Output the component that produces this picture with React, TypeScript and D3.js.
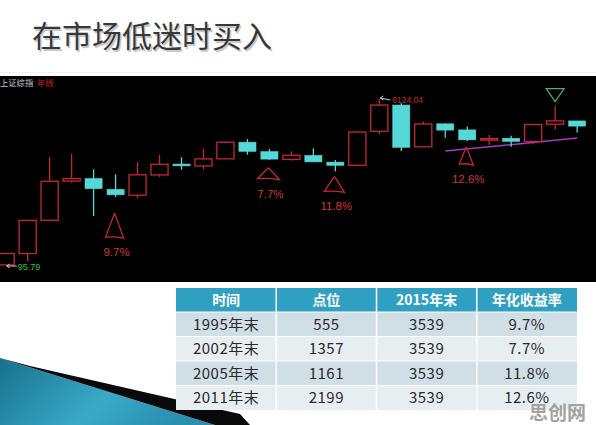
import React from 'react';
import * as d3 from 'd3';

// Shanghai Composite yearly candles (上证综指 年线)
const years = [1990, 1991, 1992, 1993, 1994, 1995, 1996, 1997, 1998, 1999, 2000, 2001, 2002, 2003,
  2004, 2005, 2006, 2007, 2008, 2009, 2010, 2011, 2012, 2013, 2014, 2015, 2016];
const opens = [96.05, 127.61, 293.74, 784.13, 837.7, 637.72, 550.26, 914.06, 1200.95, 1144.89, 1368.69,
  2077.07, 1643.49, 1347.43, 1492.72, 1260.78, 1163.88, 2728.19, 5265.0, 1849.02, 3289.75, 2825.33,
  2212.0, 2289.51, 2112.13, 3258.63, 3536.59];
const highs = [127.61, 292.75, 1429.01, 1558.95, 1052.94, 926.41, 1258.69, 1510.18, 1422.98, 1756.18,
  2125.72, 2245.44, 1748.89, 1649.6, 1783.01, 1328.53, 2698.9, 6124.04, 5522.78, 3478.01, 3306.75,
  3067.46, 2478.38, 2444.8, 3239.36, 5178.19, 3538.69];
const lows = [95.79, 105.77, 292.76, 750.46, 325.89, 524.43, 512.83, 870.18, 1043.02, 1047.83, 1361.21,
  1514.86, 1339.2, 1307.4, 1259.43, 998.23, 1161.91, 2541.52, 1664.93, 1844.09, 2319.74, 2134.02,
  1949.46, 1849.65, 1974.38, 2850.71, 2638.3];
const closes = [127.61, 292.75, 780.39, 833.8, 647.87, 555.29, 917.02, 1194.1, 1146.7, 1366.58, 2073.48,
  1645.97, 1357.65, 1497.04, 1266.5, 1161.06, 2675.47, 5261.56, 1820.81, 3277.14, 2808.08, 2199.42,
  2269.13, 2115.98, 3234.68, 3539.18, 3103.64];

// buy points marked below candles
const buyYears = [1995, 2002, 2005, 2011];
const buyLabels = ['9.7%', '7.7%', '11.8%', '12.6%'];

// support line drawn under recent candles
const trendYears = [2010, 2016];
const trendValues = [1660, 2300];

// table
const tableHeaders = ['时间', '点位', '2015年末', '年化收益率'];
const tablePeriods = ['1995年末', '2002年末', '2005年末', '2011年末'];
const tablePoints = [555, 1357, 1161, 2199];
const tableEnd = [3539, 3539, 3539, 3539];
const tableReturns = ['9.7%', '7.7%', '11.8%', '12.6%'];

const W = 596;
const H = 425;
const RED = '#c42a2c';
const CYAN = '#55d8d8';
const CJK = '"Noto Sans CJK SC", "Noto Sans", sans-serif';
const NUM = '"Liberation Sans", Arial, sans-serif';

// hand-drawn triangle shapes: [gap below low, height, half width]
const triShape = [[16, 24, 9], [8, 11, 11], [5, 15, 10], [6, 17, 7]];

export default function App() {
  const x = d3.scaleBand<number>().domain(years).range([-2.9, 585.7]).paddingInner(0.22);
  const y = d3.scaleLog().domain([95.79, 6124.04]).range([265, 99]);
  const cx = (yr: number) => (x(yr) as number) + x.bandwidth() / 2;
  const bw = x.bandwidth();

  const candles = years.map((yr, i) => ({ yr, o: opens[i], h: highs[i], l: lows[i], c: closes[i] }));

  const trendLine = d3.line<number>()
    .x((_, i) => cx(trendYears[i]))
    .y((v) => y(v))(trendValues);

  const iMax = highs.indexOf(d3.max(highs) as number);
  const iMin = lows.indexOf(d3.min(lows) as number);
  const hi2015 = highs[years.indexOf(2015)];

  // table layout
  const tx = 176, tw = 401, ty = 288, hh = 24, rh = 24.5;
  const col = d3.scaleBand<number>().domain([0, 1, 2, 3]).range([tx, tx + tw]);
  const rows = tablePeriods.map((p, i) => [p, String(tablePoints[i]), String(tableEnd[i]), tableReturns[i]]);

  const mx = cx(years[iMax]), my = y(highs[iMax]);
  const nx = cx(years[iMin]), ny = y(lows[iMin]);

  return (
    <div style={{ position: 'fixed', left: 0, top: 0, width: W, height: H, background: '#fff' }}>
      <svg width={W} height={H} style={{ display: 'block' }}>
        <defs>
          <linearGradient id="teal" x1="0" y1="0" x2="1" y2="0.3">
            <stop offset="0" stopColor="#17718c" />
            <stop offset="0.6" stopColor="#3aa9c8" />
            <stop offset="1" stopColor="#2b8fb0" />
          </linearGradient>
        </defs>
        <rect width={W} height={H} fill="#fff" />

        {/* title */}
        <text x={32} y={47} fontSize={30} fontFamily={CJK} fill="#c8c8c8" dx={1.5} dy={1.5}>在市场低迷时买入</text>
        <text x={32} y={47} fontSize={30} fontFamily={CJK} fill="#383838">在市场低迷时买入</text>
        <line x1={0} x2={W} y1={72.5} y2={72.5} stroke="#eef2f3" />

        {/* chart panel */}
        <rect x={0} y={76} width={W} height={206} fill="#000" />
        <text x={0} y={86} fontSize={8.3} fontFamily={CJK} fill="#c8c8c8">上证综指</text>
        <text x={37} y={86} fontSize={8.3} fontFamily={CJK} fill="#d02020">年线</text>

        <path d={trendLine || ''} fill="none" stroke="#a23cc0" strokeWidth={1.5} />

        {candles.map((d) => {
          const up = d.c >= d.o;
          const col0 = up ? RED : CYAN;
          const top = y(Math.max(d.o, d.c));
          const bot = y(Math.min(d.o, d.c));
          const left = x(d.yr) as number;
          return (
            <g key={d.yr}>
              <line x1={cx(d.yr)} x2={cx(d.yr)} y1={y(d.h)} y2={y(d.l)} stroke={col0} strokeWidth={1.3} />
              <rect x={left} y={top} width={bw} height={Math.max(bot - top, 1.5)}
                fill={up ? '#000' : CYAN} stroke={col0} strokeWidth={up ? 1.3 : 0.5} />
            </g>
          );
        })}

        {/* extreme labels */}
        <g fontFamily={NUM}>
          <line x1={mx + 1} x2={mx + 11} y1={my - 1} y2={my + 1} stroke="#ccc" />
          <path d={`M${mx + 1},${my - 1} l3,-2 M${mx + 1},${my - 1} l3,2`} stroke="#ccc" fill="none" />
          <text x={mx + 13} y={my + 4} fontSize={8.5} fill={RED}>{highs[iMax].toFixed(2)}</text>
          <line x1={nx + 1} x2={nx + 11} y1={ny + 1} y2={ny + 1} stroke="#ccc" />
          <path d={`M${nx + 1},${ny + 1} l3,-2 M${nx + 1},${ny + 1} l3,2`} stroke="#ccc" fill="none" />
          <text x={nx + 12} y={ny + 5} fontSize={9} fill="#2ec22e">{lows[iMin].toFixed(2)}</text>
        </g>

        {/* buy markers */}
        {buyYears.map((yr, i) => {
          const i0 = years.indexOf(yr);
          const [gap, th, hw] = triShape[i];
          const apexY = y(lows[i0]) + gap;
          const ax = cx(yr) - 1;
          const baseY = apexY + th;
          const p = d3.path();
          p.moveTo(ax, apexY);
          p.quadraticCurveTo(ax + hw * 0.4, apexY + th * 0.4, ax + hw, baseY + 1);
          p.quadraticCurveTo(ax, baseY - 1, ax - hw, baseY);
          p.quadraticCurveTo(ax - hw * 0.5, apexY + th * 0.5, ax, apexY);
          return (
            <g key={yr}>
              <path d={p.toString()} fill="none" stroke={RED} strokeWidth={1.3} />
              <text x={ax + 2} y={baseY + 19} textAnchor="middle" fontSize={11.5}
                fontFamily={NUM} fill="#d03838">{buyLabels[i]}</text>
            </g>
          );
        })}

        {/* 2015 top marker */}
        <path d={`M${cx(2015) - 9},${y(hi2015) - 17} L${cx(2015) + 9},${y(hi2015) - 17} L${cx(2015)},${y(hi2015) - 4} Z`}
          fill="none" stroke="#4fb060" strokeWidth={1.2} />

        {/* bottom-left decoration */}
        <polygon points="0,358 215,425 0,425" fill="url(#teal)" />
        <polygon points="30,366 240,414 250,425 215,425 0,358" fill="#0a0a0a" />

        {/* table */}
        <rect x={tx} y={ty} width={tw} height={hh} fill="#2fa0c2" />
        {tableHeaders.map((t, j) => (
          <text key={t} x={(col(j) as number) + col.bandwidth() / 2} y={ty + hh / 2} dy="0.36em"
            textAnchor="middle" fontSize={14} fontWeight="bold" fontFamily={CJK} fill="#fff">{t}</text>
        ))}
        {rows.map((r, i) => (
          <g key={i}>
            <rect x={tx} y={ty + hh + i * rh} width={tw} height={rh} fill={i % 2 === 0 ? '#d0dee6' : '#e7eef1'} />
            {r.map((t, j) => (
              <text key={j} x={(col(j) as number) + col.bandwidth() / 2} y={ty + hh + i * rh + rh / 2} dy="0.36em"
                textAnchor="middle" fontSize={15} fontFamily={CJK} fill="#2a2a2a" letterSpacing={0.5}>{t}</text>
            ))}
          </g>
        ))}
        {[1, 2, 3].map((j) => (
          <line key={j} x1={col(j)} x2={col(j)} y1={ty} y2={ty + hh + 4 * rh} stroke="#fff" strokeWidth={1.5} />
        ))}
        {[1, 2, 3, 4].map((i) => (
          <line key={i} x1={tx} x2={tx + tw} y1={ty + hh + (i - 1) * rh} y2={ty + hh + (i - 1) * rh} stroke="#fff" strokeWidth={1} />
        ))}

        {/* watermark */}
        <text x={529} y={420} fontSize={19} fontWeight="bold" fontFamily={CJK} fill="#9a9a9a" opacity={0.9}>思创网</text>
      </svg>
    </div>
  );
}
